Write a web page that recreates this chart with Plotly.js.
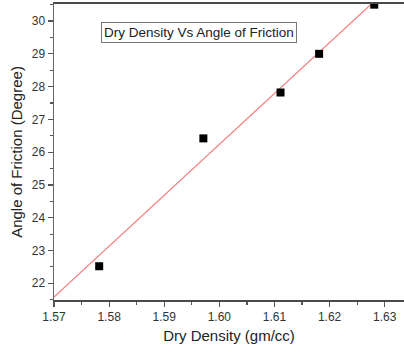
<!DOCTYPE html>
<html><head><meta charset="utf-8">
<script src="https://cdn.plot.ly/plotly-3.0.1.min.js"></script>
<style>html,body{margin:0;padding:0;background:#fff}#c{width:404px;height:348px}</style>
</head><body><div id="c"></div>
<script>
const dryDensity = [1.5782, 1.5971, 1.6111, 1.6181, 1.6281];
const frictionAngle = [22.52, 26.42, 27.82, 29.0, 30.5];
const fitX = [1.57, 1.6335];
const fitY = [21.58, 31.44];
const xTicks = [1.57, 1.58, 1.59, 1.60, 1.61, 1.62, 1.63];
const xTickText = ['1.57', '1.58', '1.59', '1.60', '1.61', '1.62', '1.63'];
const yTicks = [22, 23, 24, 25, 26, 27, 28, 29, 30];

const traces = [
  {x: fitX, y: fitY, mode: 'lines', line: {color: '#f47c7c', width: 1.2}, hoverinfo: 'skip'},
  {x: dryDensity, y: frictionAngle, mode: 'markers', marker: {symbol: 'square', size: 8, color: '#000'}}
];
const layout = {
  width: 404, height: 348,
  margin: {l: 54, r: 0, t: 4, b: 48},
  showlegend: false,
  paper_bgcolor: '#fff', plot_bgcolor: '#fff',
  font: {family: 'Liberation Sans, Arial, sans-serif', color: '#333'},
  xaxis: {
    range: [1.57, 1.6335], tickvals: xTicks, ticktext: xTickText,
    ticks: 'outside', ticklen: 5, tickwidth: 1.2, tickcolor: '#555',
    minor: {dtick: 0.005, tick0: 1.57, ticks: 'outside', ticklen: 3, tickcolor: '#555'},
    showgrid: false, zeroline: false,
    showline: true, linecolor: '#4a4a4a', linewidth: 1.8, mirror: true,
    tickfont: {size: 12, color: '#333'},
    title: {text: 'Dry Density (gm/cc)', font: {size: 15, color: '#222'}, standoff: 7}
  },
  yaxis: {
    range: [21.49, 30.52], tickvals: yTicks,
    ticks: 'outside', ticklen: 5, tickwidth: 1.2, tickcolor: '#555',
    minor: {dtick: 0.5, ticks: 'outside', ticklen: 3, tickcolor: '#555'},
    showgrid: false, zeroline: false,
    showline: true, linecolor: '#666', linewidth: 1.5,
    tickfont: {size: 12, color: '#333'},
    title: {text: 'Angle of Friction (Degree)', font: {size: 15, color: '#222'}, standoff: 5}
  },
  annotations: [{
    text: 'Dry Density Vs Angle of Friction', xref: 'paper', yref: 'paper',
    x: 0.415, y: 0.905, xanchor: 'center', yanchor: 'middle', showarrow: false,
    font: {size: 13.5, color: '#222'}, bordercolor: '#777', borderwidth: 1, borderpad: 2, bgcolor: '#fff'
  }]
};
Plotly.newPlot('c', traces, layout, {staticPlot: true});
</script></body></html>
